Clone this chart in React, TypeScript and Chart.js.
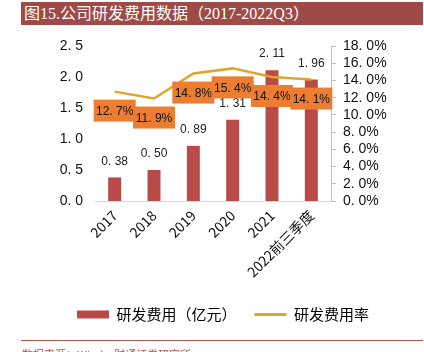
import React, { useEffect, useRef } from "react";
import { Chart, registerables } from "chart.js";

Chart.register(...registerables);

const categories = ["2017", "2018", "2019", "2020", "2021", "2022前三季度"];
const rdExpense = [0.38, 0.5, 0.89, 1.31, 2.11, 1.96];
const rdRate = [12.7, 11.9, 14.8, 15.4, 14.4, 14.1];
const leftTicks = [0, 0.5, 1.0, 1.5, 2.0, 2.5];
const rightTicks = [0, 2, 4, 6, 8, 10, 12, 14, 16, 18];

const BAR_COLOR = "#B84A48";
const LINE_COLOR = "#DFA52A";
const BOX_COLOR = "#ED7D31";
const NUM_FONT = "Arial, 'Liberation Sans', 'Noto Sans CJK SC', sans-serif";
const CJK_FONT = "'Noto Sans CJK SC', 'Liberation Sans', sans-serif";

const spaced = (s: string) => s.replace(".", ". ");

const labelPlugin = {
  id: "valueLabels",
  afterDatasetsDraw(chart: any) {
    const ctx = chart.ctx;
    ctx.save();
    const barMeta = chart.getDatasetMeta(1);
    ctx.font = "12px " + NUM_FONT;
    ctx.fillStyle = "#222";
    ctx.textAlign = "center";
    ctx.textBaseline = "middle";
    barMeta.data.forEach((el: any, i: number) => {
      ctx.fillText(spaced(rdExpense[i].toFixed(2)), el.x, el.y - 16);
    });
    const lineMeta = chart.getDatasetMeta(0);
    lineMeta.data.forEach((el: any, i: number) => {
      const txt = spaced(rdRate[i].toFixed(1)) + "%";
      const w = 42;
      const h = 22;
      const cx = el.x;
      const cy = el.y + 19;
      ctx.fillStyle = BOX_COLOR;
      ctx.fillRect(cx - w / 2, cy - h / 2, w, h);
      ctx.fillStyle = "#111";
      ctx.font = "12px " + NUM_FONT;
      ctx.fillText(txt, cx, cy + 1);
    });
    ctx.restore();
  },
};

export default function App() {
  const canvasRef = useRef<HTMLCanvasElement>(null);

  useEffect(() => {
    if (!canvasRef.current) return;
    const chart = new Chart(canvasRef.current, {
      type: "bar",
      data: {
        labels: categories,
        datasets: [
          {
            type: "line",
            label: "研发费用率",
            data: rdRate,
            yAxisID: "y1",
            borderColor: LINE_COLOR,
            backgroundColor: LINE_COLOR,
            borderWidth: 2.5,
            pointRadius: 0,
            tension: 0,
            order: 0,
          },
          {
            type: "bar",
            label: "研发费用（亿元）",
            data: rdExpense,
            yAxisID: "y",
            backgroundColor: BAR_COLOR,
            borderWidth: 0,
            barPercentage: 0.33,
            categoryPercentage: 1,
            order: 1,
          },
        ],
      },
      plugins: [labelPlugin],
      options: {
        animation: false,
        responsive: false,
        maintainAspectRatio: false,
        layout: { padding: { left: 22, right: 0, top: 46, bottom: 20 } },
        plugins: {
          title: { display: false },
          tooltip: { enabled: false },
          legend: {
            position: "bottom",
            reverse: true,
            labels: {
              usePointStyle: true,
              pointStyleWidth: 32,
              boxHeight: 8,
              padding: 18,
              color: "#222",
              font: { size: 15, family: CJK_FONT },
              generateLabels: (chart: any) => {
                const ds = chart.data.datasets;
                return [
                  {
                    text: ds[0].label,
                    fillStyle: LINE_COLOR,
                    strokeStyle: LINE_COLOR,
                    lineWidth: 3,
                    pointStyle: "line",
                    datasetIndex: 0,
                    hidden: false,
                  },
                  {
                    text: ds[1].label,
                    fillStyle: BAR_COLOR,
                    strokeStyle: BAR_COLOR,
                    lineWidth: 0,
                    pointStyle: "rect",
                    datasetIndex: 1,
                    hidden: false,
                  },
                ];
              },
            },
          },
        },
        scales: {
          x: {
            grid: { display: false, drawTicks: false },
            border: { display: true, color: "#D9D9D9", width: 1 },
            ticks: {
              maxRotation: 45,
              minRotation: 45,
              color: "#111",
              padding: 6,
              font: { size: 14, family: CJK_FONT },
            },
            afterFit: (scale: any) => {
              scale.height = 88;
            },
          },
          y: {
            position: "left",
            min: 0,
            max: 2.5,
            afterBuildTicks: (scale: any) => {
              scale.ticks = leftTicks.map((v) => ({ value: v }));
            },
            grid: { display: false, drawTicks: false },
            border: { display: false },
            ticks: {
              color: "#111",
              padding: 12,
              autoSkip: false,
              font: { size: 14, family: NUM_FONT },
              callback: (v: any) => spaced(Number(v).toFixed(1)),
            },
            afterFit: (scale: any) => {
              scale.width = 73;
            },
          },
          y1: {
            position: "right",
            min: 0,
            max: 18,
            afterBuildTicks: (scale: any) => {
              scale.ticks = rightTicks.map((v) => ({ value: v }));
            },
            grid: {
              display: true,
              drawOnChartArea: false,
              drawTicks: true,
              tickLength: 5,
              color: "#BFBFBF",
            },
            border: { display: true, color: "#BFBFBF", width: 1 },
            ticks: {
              color: "#111",
              padding: 7,
              autoSkip: false,
              font: { size: 14, family: NUM_FONT },
              callback: (v: any) => spaced(Number(v).toFixed(1)) + "%",
            },
            afterFit: (scale: any) => {
              scale.width = 93;
            },
          },
        },
      },
    } as any);
    return () => chart.destroy();
  }, []);

  return (
    <div style={{ position: "absolute", left: 0, top: 0, width: 424, height: 352, overflow: "hidden", background: "#fff" }}>
      <div
        style={{
          position: "absolute",
          left: 21,
          top: 2,
          width: 402,
          height: 23,
          background: "#9E4B47",
          color: "#fff",
          fontFamily: "'Liberation Serif', 'Noto Sans CJK SC', serif",
          fontSize: 16,
          lineHeight: "23px",
          paddingLeft: 3,
          boxSizing: "border-box",
          whiteSpace: "nowrap",
        }}
      >
        图15.公司研发费用数据（2017-2022Q3）
      </div>
      <canvas ref={canvasRef} width={424} height={352} style={{ position: "absolute", left: 0, top: 0, width: 424, height: 352 }} />
      <div style={{ position: "absolute", left: 21, top: 340, width: 402, height: 1, background: "#B5504B" }} />
      <div
        style={{
          position: "absolute",
          left: 22,
          top: 347,
          fontSize: 11,
          color: "#B5504B",
          fontFamily: CJK_FONT,
          whiteSpace: "nowrap",
          lineHeight: "14px",
        }}
      >
        数据来源：Wind，财通证券研究所
      </div>
    </div>
  );
}
